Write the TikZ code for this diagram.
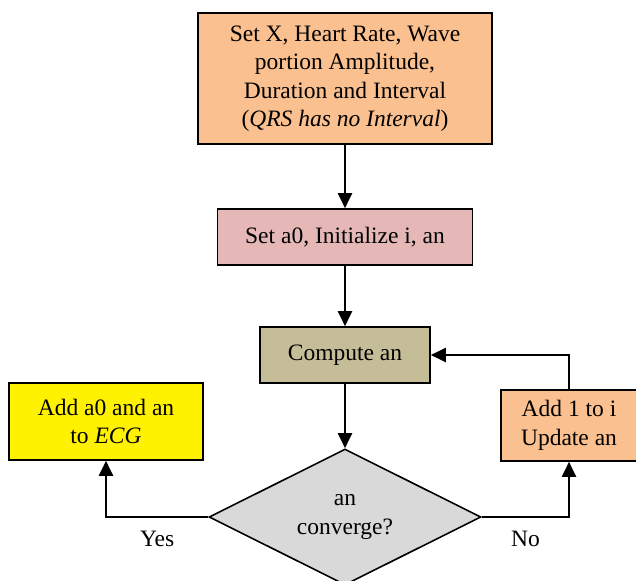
\documentclass[tikz,border=0pt]{standalone}
\usepackage{fontspec}
\setmainfont{Liberation Serif}
\usetikzlibrary{shapes.geometric,arrows.meta}

\definecolor{peach}{RGB}{250,192,143}
\definecolor{rosy}{RGB}{229,184,183}
\definecolor{khaki}{RGB}{196,189,151}
\definecolor{lightgray}{RGB}{217,217,217}

\tikzset{
  box/.style={draw,line width=1.6pt,align=center,inner sep=0pt},
  flow/.style={line width=2pt,-{Triangle[length=15pt,width=14pt]}}
}

\begin{document}
\begin{tikzpicture}[x=1pt,y=1pt,font=\fontsize{23.5}{28.5}\selectfont]
    \useasboundingbox (0,0) rectangle (636,-580);

    \node[box,fill=peach,minimum width=294pt,minimum height=131pt] (setx) at (345,-78.5) {
      Set X, Heart Rate, Wave \\
      portion Amplitude, \\
      Duration and Interval \\
      (\textit{QRS has no Interval})};

    \node[box,fill=rosy,minimum width=255pt,minimum height=56pt] (seta) at (345,-237) {Set a0, Initialize i, an};

    \node[box,fill=khaki,minimum width=170pt,minimum height=56pt] (comp) at (345,-355) {Compute an};

    \node[box,fill=lightgray,shape=diamond,aspect=2,minimum width=272pt,minimum height=136pt] (conv) at (345,-517) {
      an \\
      converge?};

    \node[box,fill=yellow,minimum width=194pt,minimum height=77pt] (addecg) at (106,-421.5) {
      Add a0 and an \\
      to \textit{ECG}};

    \node[box,fill=peach,minimum width=136pt,minimum height=71pt] (addi) at (569,-425.5) {
      Add 1 to i \\
      Update an};

    \draw[flow] (setx) -- (seta);
    \draw[flow] (seta) -- (comp);
    \draw[flow] (comp) -- (conv);
    \draw[flow] (conv.west) -| (addecg.south) node[pos=0.25,below=10pt] (yes) {Yes};
    \draw[flow] (conv.east) -| (addi.south) node[pos=0.25,below=10pt] (no) {No};
    \draw[flow] (addi.north) |- (comp.east);
  \end{tikzpicture}
\end{document}
